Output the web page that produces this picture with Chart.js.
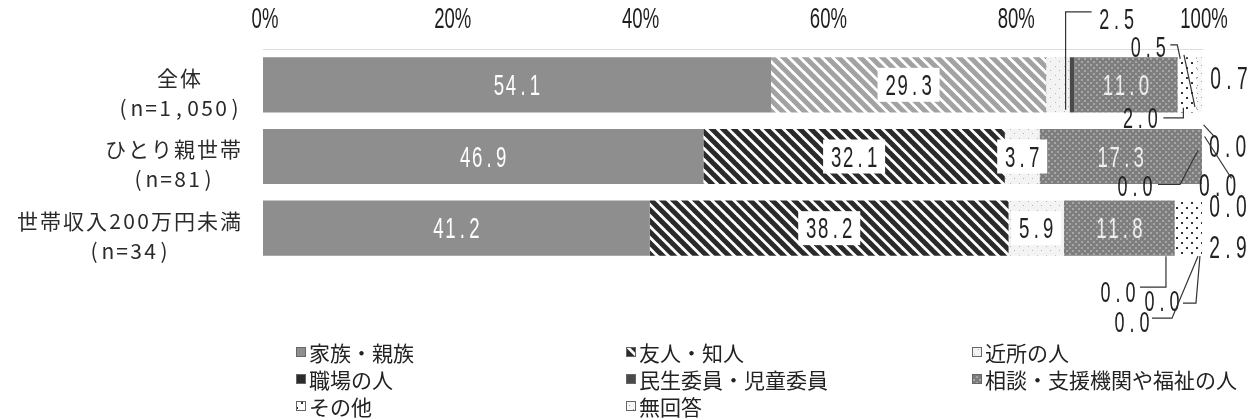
<!DOCTYPE html>
<html><head><meta charset="utf-8">
<script src="https://cdn.jsdelivr.net/npm/chart.js@4.4.1/dist/chart.umd.min.js"></script>
<style>html,body{margin:0;padding:0;background:#fff}#wrap{width:1257px;height:420px;position:relative}canvas{display:block}</style>
</head><body><div id="wrap"><canvas id="c" width="1257" height="420"></canvas></div>
<script>
// ---- data ----
const categories = [['全体', '(n=1,050)'], ['ひとり親世帯', '(n=81)'], ['世帯収入200万円未満', '(n=34)']];
const seriesNames = ['家族・親族', '友人・知人', '近所の人', '職場の人', '民生委員・児童委員', '相談・支援機関や福祉の人', 'その他', '無回答'];
const family    = [54.1, 46.9, 41.2];
const friends   = [29.3, 32.1, 38.2];
const neighbors = [2.5, 3.7, 5.9];
const workplace = [0.0, 0.0, 0.0];
const minsei    = [0.5, 0.0, 0.0];
const consult   = [11.0, 17.3, 11.8];
const other     = [2.0, 0.0, 2.9];
const noAnswer  = [0.7, 0.0, 0.0];
const tickValues = [0, 20, 40, 60, 80, 100];

// ---- patterns ----
function tile(w, h, draw) {
  const c = document.createElement('canvas'); c.width = w; c.height = h;
  const g = c.getContext('2d'); draw(g, w, h);
  return document.getElementById('c').getContext('2d').createPattern(c, 'repeat');
}
function stripes(color) {
  return tile(11, 11, (g, w) => {
    g.fillStyle = '#ffffff'; g.fillRect(0, 0, w, w);
    g.strokeStyle = color; g.lineWidth = 5; g.lineCap = 'square';
    for (let k = -1; k <= 1; k++) { g.beginPath(); g.moveTo(k * w - 2, -2); g.lineTo(k * w + w + 2, w + 2); g.stroke(); }
  });
}
function dots(bg, fg, size, pts, n) {
  return tile(n, n, (g) => {
    g.fillStyle = bg; g.fillRect(0, 0, n, n);
    g.fillStyle = fg; pts.forEach(p => g.fillRect(p[0], p[1], size, size));
  });
}
const pFamily = '#8e8e8e';
const pFriendsLight = stripes('#a2a2a2');
const pFriendsDark = stripes('#2a2a2a');
const pNeighbors = dots('#f3f3f3', '#b5b5b5', 1, [[2, 3], [6, 7]], 9);
const pWork = '#2b2b2b';
const pMinsei = '#4a4a4a';
const pConsult = dots('#7e7e7e', '#a6a6a6', 2, [[1, 1], [4, 4]], 6);
const pOther = dots('#ffffff', '#333333', 2, [[1, 2], [6, 7]], 10);
const pNoAns = dots('#f7f7f7', '#9a9a9a', 1, [[1, 1], [5, 5]], 8);

const fills = [pFamily, [pFriendsLight, pFriendsDark, pFriendsDark], pNeighbors, pWork, pMinsei, pConsult, pOther, pNoAns];
const legendFills = [pFamily, pFriendsDark, pNeighbors, pWork, pMinsei, pConsult, pOther, pNoAns];
const seriesData = [family, friends, neighbors, workplace, minsei, consult, other, noAnswer];

// inside label styles per series
const insideStyle = [
  {color: '#ffffff', box: false}, {color: '#222222', box: true}, {color: '#222222', box: true},
  {color: '#ffffff', box: false}, {color: '#ffffff', box: false}, {color: '#eeeeee', box: false},
  {color: '#222222', box: true}, {color: '#222222', box: true}
];
// outside labels: offset from the segment end / row centre, with leader polyline
const outside = {
  '2-0': {dx: 47, dy: -66, size: 29, pts: [[22, -73], [-4, -73], [-4, 25]]},
  '4-0': {dx: 74, dy: -38, size: 29, pts: [[96, -40], [103, -40], [106, -26]]},
  '6-0': {dx: -56, dy: 33, size: 29, pts: [[-33, 33], [-13, 33], [-13, 23]]},
  '7-0': {dx: 26, dy: -6, size: 31, pts: [[-19, -30], [-8, 22]]},
  '3-0': {dx: 158, dy: 62, size: 31, pts: [[134, 40], [145, 52]]},
  '3-1': {dx: 178, dy: 29, size: 31, pts: [[165, -20], [192, 22]]},
  '6-1': {dx: -67, dy: 29, size: 29, pts: [[-44, 28], [-22, 28], [-4, -6]]},
  '7-1': {dx: 26, dy: 50, size: 31, pts: []},
  '6-2': {dx: 26, dy: 19, size: 31, pts: []},
  '3-2': {dx: 54, dy: 64, size: 29, pts: [[76, 59], [102, 59], [102, 28]]},
  '4-2': {dx: 98, dy: 73, size: 29, pts: [[119, 75], [132, 75], [136, 28]]},
  '7-2': {dx: -70, dy: 94, size: 29, pts: [[-50, 90], [-30, 90], [-4, 28]]}
};

function drawMono(ctx, str, cx, cy, pitch, size, sx, color) {
  const total = str.length * pitch;
  let x0 = cx - total / 2;
  ctx.save();
  ctx.font = size + 'px "Liberation Sans", "DejaVu Sans", sans-serif';
  ctx.fillStyle = color; ctx.textAlign = 'center'; ctx.textBaseline = 'middle';
  for (let k = 0; k < str.length; k++) {
    ctx.save(); ctx.translate(x0 + k * pitch + pitch / 2, cy); ctx.scale(sx, 1);
    ctx.fillText(str[k], 0, 2); ctx.restore();
  }
  ctx.restore();
  return total;
}
function drawCondensed(ctx, str, cx, cy, size, sx, color) {
  ctx.save();
  ctx.font = size + 'px "Liberation Sans", "DejaVu Sans", sans-serif';
  ctx.fillStyle = color; ctx.textAlign = 'center'; ctx.textBaseline = 'middle';
  ctx.translate(cx, cy); ctx.scale(sx, 1); ctx.fillText(str, 0, 0);
  ctx.restore();
}
function isWide(ch) { return ch.charCodeAt(0) > 0x2e80; }
function spacedWidth(str) { let w = 0; for (const ch of str) w += isWide(ch) ? 23 : 14; return w; }
function drawSpaced(ctx, str, x, cy) {
  let xx = x;
  for (const ch of str) {
    const p = isWide(ch) ? 23 : 14;
    ctx.fillText(ch, xx + p / 2, cy);
    xx += p;
  }
}

const labelPlugin = {
  id: 'labels',
  afterDatasetsDraw(chart) {
    const ctx = chart.ctx;
    chart.data.datasets.forEach((ds, i) => {
      const meta = chart.getDatasetMeta(i);
      meta.data.forEach((bar, j) => {
        const v = ds.data[j];
        const txt = v.toFixed(1);
        const o = outside[i + '-' + j];
        if (o) {
          const sz = o.size;
          drawMono(ctx, txt, bar.x + o.dx, bar.y + o.dy, sz * 0.43, sz, 0.62, '#222');
          if (o.pts.length) {
            ctx.save(); ctx.strokeStyle = '#333'; ctx.lineWidth = 1.2; ctx.beginPath();
            o.pts.forEach((p, k) => { const X = bar.x + p[0], Y = bar.y + p[1]; k ? ctx.lineTo(X, Y) : ctx.moveTo(X, Y); });
            ctx.stroke(); ctx.restore();
          }
        } else if (v >= 3) {
          const st = insideStyle[i];
          const cx = (bar.x + bar.base) / 2, cy = bar.y;
          const w = txt.length * 12;
          if (st.box) {
            ctx.save(); ctx.fillStyle = '#ffffff';
            ctx.fillRect(cx - w / 2 - 7, cy - 17, w + 14, 34); ctx.restore();
          }
          drawMono(ctx, txt, cx, cy, 12, 30, 0.62, st.color);
        }
      });
    });
  },
  afterDraw(chart) {
    const ctx = chart.ctx;
    const y = chart.scales.y, x = chart.scales.x;
    // x tick labels (condensed), placed by the x scale
    x.ticks.forEach(t => {
      drawCondensed(ctx, t.value + '%', x.getPixelForValue(t.value) + 2, 20, 29, 0.64, '#1e1e1e');
    });
    // category labels
    ctx.save();
    ctx.font = '21px "Noto Sans CJK JP", sans-serif';
    ctx.fillStyle = '#2a2a2a'; ctx.textAlign = 'center'; ctx.textBaseline = 'middle';
    categories.forEach((lines, j) => {
      const cy = y.getPixelForValue(j);
      const widths = lines.map(spacedWidth);
      const bw = Math.max(...widths);
      const right = chart.chartArea.left - 21;
      const centre = right - bw / 2;
      lines.forEach((ln, k) => drawSpaced(ctx, ln, centre - widths[k] / 2, cy + (k === 0 ? -7 : 23)));
    });
    ctx.restore();
    // legend
    const colX = [296, 626, 972], rowY = [352, 379, 406];
    ctx.save();
    ctx.font = '21px "Noto Sans CJK JP", sans-serif';
    ctx.textBaseline = 'middle'; ctx.textAlign = 'left';
    chart.data.datasets.forEach((ds, i) => {
      const xx = colX[i % 3], yy = rowY[Math.floor(i / 3)];
      ctx.fillStyle = legendFills[i]; ctx.fillRect(xx, yy - 5, 10, 10);
      ctx.strokeStyle = '#666'; ctx.lineWidth = 1; ctx.strokeRect(xx + 0.5, yy - 4.5, 9, 9);
      ctx.fillStyle = '#222'; ctx.fillText(ds.label, xx + 13, yy + 1);
    });
    ctx.restore();
  }
};

new Chart(document.getElementById('c'), {
  type: 'bar',
  data: {
    labels: categories,
    datasets: seriesNames.map((name, i) => ({
      label: name, data: seriesData[i], backgroundColor: fills[i], borderWidth: 0,
      categoryPercentage: 0.77, barPercentage: 1
    }))
  },
  options: {
    indexAxis: 'y', responsive: false, animation: false,
    layout: {padding: {left: 263, right: 55, top: 0, bottom: 156}},
    plugins: {legend: {display: false}, tooltip: {enabled: false}},
    scales: {
      x: {
        position: 'top', stacked: true, min: 0, max: 100,
        afterBuildTicks: s => { s.ticks = tickValues.map(v => ({value: v})); },
        afterFit: s => { s.height = 49; },
        ticks: {display: false, autoSkip: false},
        grid: {display: false, drawTicks: false},
        border: {display: true, color: '#dddddd'}
      },
      y: {stacked: true, display: false}
    }
  },
  plugins: [labelPlugin]
});
</script>
</body></html>
